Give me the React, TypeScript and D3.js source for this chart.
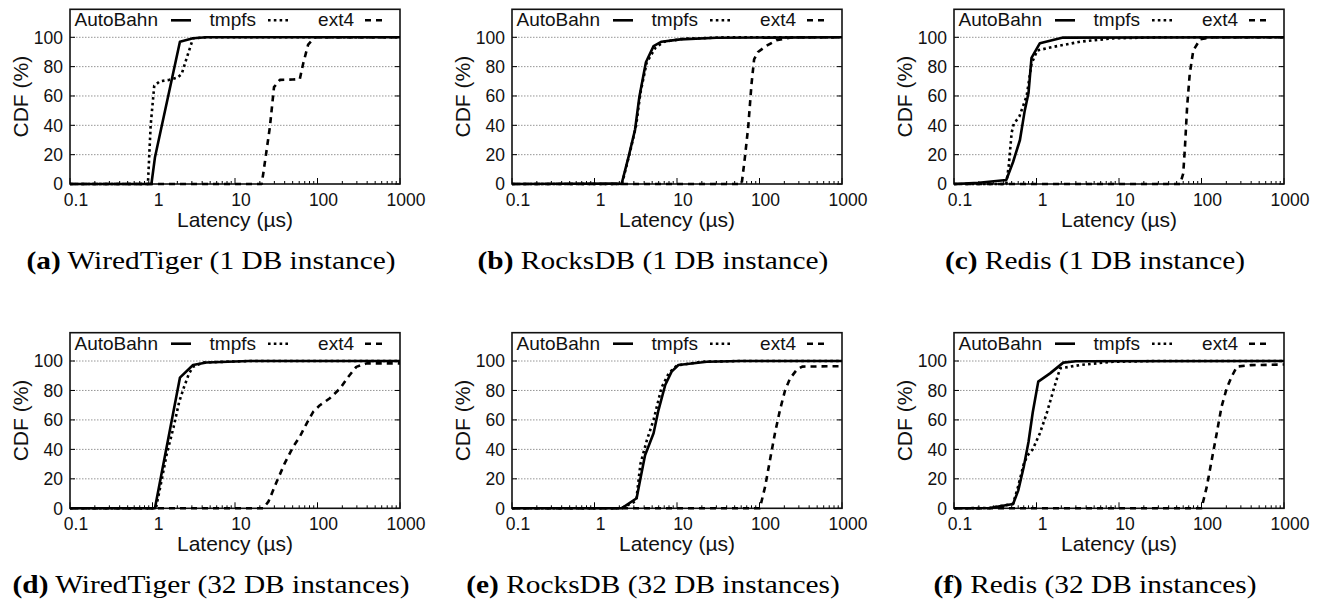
import React from 'react';
import * as d3 from 'd3';

type Pt = [number, number];

// ---- axis / legend text ----
const xTicks = [0.1, 1, 10, 100, 1000];
const xTickLabels = ['0.1', '1', '10', '100', '1000'];
const yTicks = [0, 20, 40, 60, 80, 100];
const seriesNames = ['AutoBahn', 'tmpfs', 'ext4'];
const captionLetters = ['(a)', '(b)', '(c)', '(d)', '(e)', '(f)'];
const captionTexts = [
  'WiredTiger (1 DB instance)',
  'RocksDB (1 DB instance)',
  'Redis (1 DB instance)',
  'WiredTiger (32 DB instances)',
  'RocksDB (32 DB instances)',
  'Redis (32 DB instances)',
];

// ---- (a) WiredTiger, 1 instance ----
const wt1AutoBahn: Pt[] = [[0.1, 0], [0.97, 0], [1.07, 18], [2.15, 97], [3.1, 99.3], [4.5, 100], [1000, 100]];
const wt1Tmpfs: Pt[] = [[0.1, 0], [0.88, 0], [0.95, 40], [1.05, 67], [1.23, 70], [1.6, 71], [2.0, 72.5], [2.26, 75], [2.6, 86], [3.1, 99.3], [4.5, 100], [1000, 100]];
const wt1Ext4: Pt[] = [[0.1, 0], [21, 0], [22, 7], [26.5, 39], [29.7, 66], [35, 71], [50, 71.2], [61, 71.5], [67, 82], [77, 95], [93, 100], [1000, 100]];

// ---- (b) RocksDB, 1 instance ----
const rk1AutoBahn: Pt[] = [[0.1, 0], [1.8, 0.3], [2.13, 0], [2.6, 19], [3.1, 37], [3.5, 59.5], [4.2, 83], [5.2, 94], [6.5, 97], [11, 98.6], [30, 99.7], [1000, 100]];
const rk1Tmpfs: Pt[] = [[0.1, 0], [2.15, 0], [2.7, 22], [3.2, 40], [3.6, 62], [4.3, 83], [5.5, 93], [7, 97], [12, 99], [40, 100], [1000, 100]];
const rk1Ext4: Pt[] = [[0.1, 0], [60.8, 0], [66.7, 18.6], [73, 39], [80, 68], [86, 85], [96, 90], [120, 94], [160, 98], [250, 100], [1000, 100]];

// ---- (c) Redis, 1 instance ----
const rd1AutoBahn: Pt[] = [[0.1, 0], [0.2, 0.8], [0.43, 2.7], [0.52, 15], [0.63, 30], [0.72, 50], [0.8, 62], [0.87, 86], [1.1, 96], [2.1, 99.8], [1000, 100]];
const rd1Tmpfs: Pt[] = [[0.1, 0], [0.43, 0], [0.46, 12], [0.5, 35], [0.53, 41], [0.62, 46], [0.76, 60], [0.87, 82], [1.02, 91], [1.6, 93.5], [3.4, 97], [8.5, 99.3], [30, 100], [1000, 100]];
const rd1Ext4: Pt[] = [[0.1, 0], [55, 0], [60, 7], [63, 25], [67, 53], [72, 75], [79.5, 91], [96, 98.6], [130, 100], [1000, 100]];

// ---- (d) WiredTiger, 32 instances ----
const wt32AutoBahn: Pt[] = [[0.1, 0], [1.07, 0], [2.15, 88.7], [3.1, 97.3], [4.5, 99], [15, 100], [1000, 100]];
const wt32Tmpfs: Pt[] = [[0.1, 0], [1.1, 0], [1.3, 20], [1.49, 37], [1.8, 55], [2.1, 72], [2.4, 82], [2.75, 91], [3.1, 96], [4.1, 99], [15, 100], [1000, 100]];
const wt32Ext4: Pt[] = [[0.1, 0], [22, 0], [25.4, 4.5], [32, 18], [40, 30.5], [51, 42], [61, 48.6], [74, 57.7], [89, 65.6], [107, 70], [141, 74.7], [188, 81.4], [234, 89], [295, 96], [395, 98.4], [1000, 98.4]];

// ---- (e) RocksDB, 32 instances ----
const rk32AutoBahn: Pt[] = [[0.1, 0], [2.13, 0], [3.24, 6.8], [3.57, 19], [4.1, 36], [5.2, 51], [5.9, 65.6], [7.2, 83.7], [8.6, 92.8], [10.4, 97.3], [23, 99.5], [60, 100], [1000, 100]];
const rk32Tmpfs: Pt[] = [[0.1, 0], [2.1, 0], [3.2, 5], [3.6, 30], [4.3, 46], [5.2, 60], [6.5, 82], [8, 92], [10, 97], [20, 99.5], [60, 100], [1000, 100]];
const rk32Ext4: Pt[] = [[0.1, 0], [101, 0], [117, 14.7], [134, 32.8], [154, 51], [177, 66.7], [204, 80], [234, 88], [282, 94], [330, 96.2], [1000, 96.5]];

// ---- (f) Redis, 32 instances ----
const rd32AutoBahn: Pt[] = [[0.1, 0], [0.27, 0.2], [0.52, 2.9], [0.6, 12], [0.7, 28], [0.8, 45], [0.9, 65], [1.05, 86], [1.46, 91.6], [2.11, 98.9], [3, 99.8], [1000, 100]];
const rd32Tmpfs: Pt[] = [[0.1, 0], [0.27, 0.2], [0.52, 3], [0.6, 15], [0.7, 30], [0.78, 36], [0.9, 40], [1.1, 51], [1.33, 64.5], [1.6, 80], [1.93, 95], [3.4, 97.3], [8.5, 99.5], [30, 100], [1000, 100]];
const rd32Ext4: Pt[] = [[0.1, 0], [100, 0], [116, 14.7], [133, 32.8], [153, 51], [175, 69], [202, 81.4], [232, 89.4], [269, 96.2], [400, 97.2], [1000, 97.6]];

const panelSeries: Pt[][][] = [
  [wt1AutoBahn, wt1Tmpfs, wt1Ext4],
  [rk1AutoBahn, rk1Tmpfs, rk1Ext4],
  [rd1AutoBahn, rd1Tmpfs, rd1Ext4],
  [wt32AutoBahn, wt32Tmpfs, wt32Ext4],
  [rk32AutoBahn, rk32Tmpfs, rk32Ext4],
  [rd32AutoBahn, rd32Tmpfs, rd32Ext4],
];

// ---- layout / style ----
const COL_LEFT = [70, 512, 954];
const PLOT_W = 330;
const ROW_TOP = [9.3, 332.7];
const ROW_Y0 = [184, 508.3];
const ROW_Y100 = [37.3, 361];
const SANS = '"Liberation Sans", Arial, Helvetica, sans-serif';
const SERIF = '"Liberation Serif", "Times New Roman", serif';
const seriesDash = [undefined, '2.6,3.2', '6,5'];

function Panel({ idx }: { idx: number }) {
  const col = idx % 3;
  const row = Math.floor(idx / 3);
  const L = COL_LEFT[col];
  const R = L + PLOT_W;
  const top = ROW_TOP[row];
  const y0 = ROW_Y0[row];
  const x = d3.scaleLog().domain([0.1, 1000]).range([L, R]);
  const y = d3.scaleLinear().domain([0, 100]).range([y0, ROW_Y100[row]]);
  const line = d3
    .line<Pt>()
    .x((d) => x(d[0]))
    .y((d) => y(d[1]));

  const minor: number[] = [];
  for (let e = -1; e < 3; e++) {
    for (let m = 2; m <= 9; m++) minor.push(m * Math.pow(10, e));
  }

  return (
    <g>
      {/* grid */}
      {yTicks
        .filter((t) => t > 0)
        .map((t) => (
          <line key={'g' + t} x1={L} x2={R} y1={y(t)} y2={y(t)} stroke="#8a8a8a" strokeWidth={0.9} strokeDasharray="1.5,1.5" />
        ))}
      {/* y ticks */}
      {yTicks.map((t) => (
        <g key={'yt' + t}>
          <line x1={L} x2={L + 5} y1={y(t)} y2={y(t)} stroke="#000" strokeWidth={1} />
          <line x1={R} x2={R - 5} y1={y(t)} y2={y(t)} stroke="#000" strokeWidth={1} />
          <text x={L - 7} y={y(t)} dy="0.36em" textAnchor="end" fontFamily={SANS} fontSize={17.5} fill="#111">
            {t}
          </text>
        </g>
      ))}
      {/* x ticks */}
      {minor.map((m) => (
        <line key={'mx' + m} x1={x(m)} x2={x(m)} y1={y0} y2={y0 - 3} stroke="#000" strokeWidth={1} />
      ))}
      {xTicks.map((t, i) => (
        <g key={'xt' + t}>
          <line x1={x(t)} x2={x(t)} y1={y0} y2={y0 - 6} stroke="#000" strokeWidth={1} />
          <text x={x(t) + 6} y={y0 + 22} textAnchor="middle" fontFamily={SANS} fontSize={17.5} fill="#111">
            {xTickLabels[i]}
          </text>
        </g>
      ))}
      {/* frame */}
      <rect x={L} y={top} width={PLOT_W} height={y0 - top} fill="none" stroke="#111" strokeWidth={1.6} />
      {/* series */}
      {panelSeries[idx].map((s, si) => (
        <path
          key={'s' + si}
          d={line(s) || ''}
          fill="none"
          stroke="#000"
          strokeWidth={2.6}
          strokeDasharray={seriesDash[si]}
          strokeLinejoin="round"
        />
      ))}
      {/* legend */}
      {seriesNames.map((n, si) => (
        <g key={'lg' + si}>
          <text x={L + 88 + 98 * si} y={top + 17} textAnchor="end" fontFamily={SANS} fontSize={19} fill="#111">
            {n}
          </text>
          <line
            x1={L + 101 + 97 * si}
            x2={L + 121 + 97 * si}
            y1={top + 11}
            y2={top + 11}
            stroke="#000"
            strokeWidth={2.6}
            strokeDasharray={seriesDash[si]}
          />
        </g>
      ))}
      {/* axis labels */}
      <text x={L + PLOT_W / 2} y={y0 + 43} textAnchor="middle" fontFamily={SANS} fontSize={21} fill="#111">
        Latency (µs)
      </text>
      <text
        transform={`translate(${L - 49},${(top + y0) / 2}) rotate(-90)`}
        textAnchor="middle"
        dy="0.35em"
        fontFamily={SANS}
        fontSize={21}
        fill="#111"
      >
        CDF (%)
      </text>
      {/* caption */}
      <text
        transform={`translate(${L + 141},${y0 + 84.5}) scale(1.13,1)`}
        textAnchor="middle"
        fontFamily={SERIF}
        fontSize={26}
        fill="#000"
      >
        <tspan fontWeight="bold">{captionLetters[idx]}</tspan> {captionTexts[idx]}
      </text>
    </g>
  );
}

export default function App() {
  return (
    <svg
      width={1320}
      height={600}
      viewBox="0 0 1320 600"
      style={{ position: 'absolute', left: 0, top: 0, background: '#fff' }}
    >
      <rect x={0} y={0} width={1320} height={600} fill="#fff" />
      {[0, 1, 2, 3, 4, 5].map((i) => (
        <Panel key={i} idx={i} />
      ))}
    </svg>
  );
}
